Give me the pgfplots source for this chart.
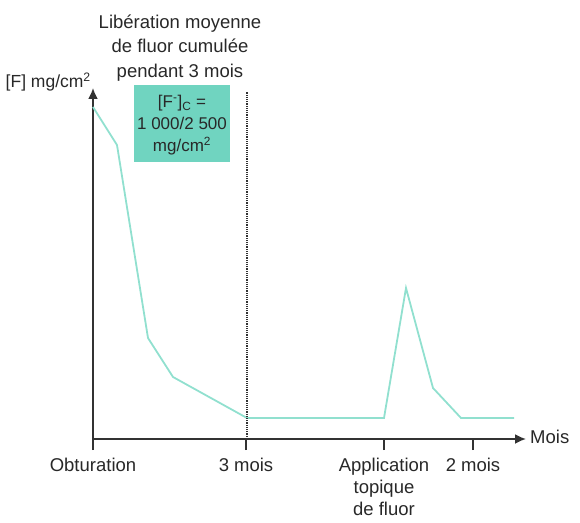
\documentclass[border=0pt]{standalone}
\usepackage{fontspec}
\setmainfont{Liberation Sans}
\usepackage{pgfplots}
\pgfplotsset{compat=1.18}
\usetikzlibrary{arrows.meta}
\definecolor{teal1}{RGB}{145,224,207}
\definecolor{boxc}{RGB}{112,212,192}
\definecolor{axc}{RGB}{50,50,50}
\definecolor{txc}{RGB}{40,40,40}
\begin{document}
\begin{tikzpicture}
\begin{axis}[
  x=1pt, y=1pt,
  xmin=0, xmax=433, ymin=0, ymax=351,
  axis lines=left,
  axis line style={axc, line width=1.8pt},
  every outer x axis line/.append style={-{Latex[length=11pt,width=10pt]}},
  every outer y axis line/.append style={-{Latex[length=11pt,width=10pt]}},
  clip=false,
  ytick=\empty,
  xtick={0,153,291,380},
  xticklabels={Obturation,3 mois,{Application\\topique\\de fluor},2 mois},
  xtick align=outside,
  major tick length=11pt,
  xtick style={axc, line width=1.8pt},
  xticklabel style={align=center, text=txc, font=\fontsize{18.5}{22}\selectfont, yshift=-6pt},
  every tick label/.append style={inner sep=2pt},
]
\addplot[teal1, line width=1.8pt] coordinates {
(0,332) (24,294) (55,101) (80,62) (154,21) (291,21) (313,151) (340,51) (368,21) (421,21)};
\draw[axc, densely dotted, line width=1.2pt] (axis cs:154,0) -- (axis cs:154,347);
\fill[boxc] (axis cs:41,277) rectangle (axis cs:137,354);
\node[align=center, text=txc, font=\fontsize{17}{22}\selectfont, inner sep=0pt] at (axis cs:89,313.5)
  {[F\textsuperscript{-}]\textsubscript{C} =\\1~000/2~500\\mg/cm\textsuperscript{2}};
\node[align=center, text=txc, font=\fontsize{18.5}{24.5}\selectfont] at (axis cs:87,391)
  {Libération moyenne\\de fluor cumulée\\pendant 3 mois};
\node[anchor=east, text=txc, font=\fontsize{17.5}{20}\selectfont, inner sep=1pt] at (axis cs:-1,357)
  {[F] mg/cm\textsuperscript{2}};
\node[anchor=west, text=txc, font=\fontsize{18.5}{22}\selectfont, inner sep=1pt] at (axis cs:436,2)
  {Mois};
\path (axis cs:-93,-83) rectangle (axis cs:487,439);
\end{axis}
\end{tikzpicture}
\end{document}
